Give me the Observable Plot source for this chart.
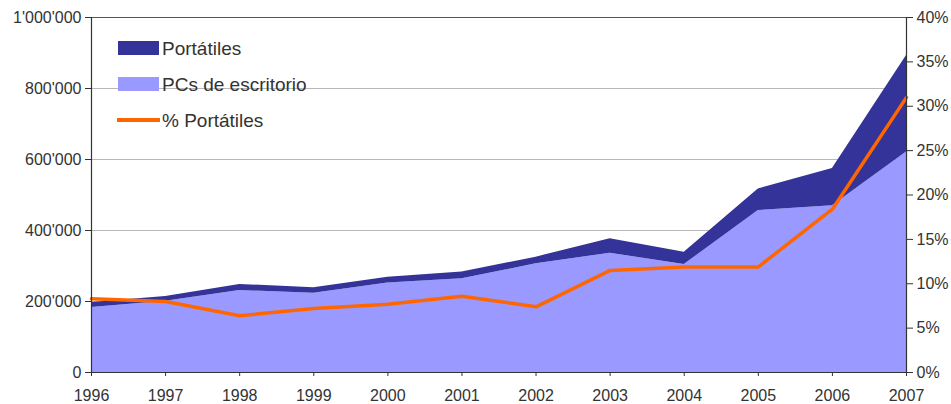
<!DOCTYPE html>
<html>
<head>
<meta charset="utf-8">
<script src="https://cdn.jsdelivr.net/npm/d3@7"></script>
<script src="https://cdn.jsdelivr.net/npm/@observablehq/plot@0.6"></script>
<style>
  html, body { margin: 0; padding: 0; background: #fff; }
  #chart { width: 951px; height: 404px; }
</style>
</head>
<body>
<div id="chart"></div>
<script>
// Data (values in units; percentages in %)
const years = [1996, 1997, 1998, 1999, 2000, 2001, 2002, 2003, 2004, 2005, 2006, 2007];
const desktop = [183000, 201000, 231000, 223000, 252000, 264000, 306000, 336000, 304000, 456000, 470000, 621000];
const portable = [14000, 13000, 17000, 16000, 16000, 19000, 19000, 41000, 35000, 61000, 105000, 272000];
const pctPortable = [8.3, 8.0, 6.4, 7.2, 7.7, 8.6, 7.4, 11.5, 11.9, 11.9, 18.4, 31.0];
const leftTicks = [0, 200000, 400000, 600000, 800000, 1000000];
const rightTicks = [0, 5, 10, 15, 20, 25, 30, 35, 40];
const legendLabels = ["Portátiles", "PCs de escritorio", "% Portátiles"];

const Y_MAX = 1000000, P_MAX = 40;
const rows = years.map((year, i) => ({
  year, desktop: desktop[i], total: desktop[i] + portable[i], pct: pctPortable[i]
}));

const fmt = d3.formatLocale({decimal: ".", thousands: "'", grouping: [3], currency: ["", ""]}).format(",d");

const plot = Plot.plot({
  width: 951,
  height: 404,
  marginLeft: 91,
  marginRight: 45,
  marginTop: 17,
  marginBottom: 32,
  x: {type: "linear", domain: [years[0], years[years.length - 1]]},
  y: {domain: [0, Y_MAX]},
  style: {fontFamily: "'Liberation Sans', Arial, sans-serif", fontSize: "16px", color: "#333", background: "#fff", overflow: "visible"},
  marks: [
    Plot.ruleY(leftTicks.slice(1, -1), {stroke: "#b8b8b8", strokeWidth: 1}),
    Plot.areaY(rows, {x: "year", y: "desktop", fill: "#9999ff"}),
    Plot.areaY(rows, {x: "year", y1: "desktop", y2: "total", fill: "#333399"}),
    Plot.lineY(rows, {x: "year", y: d => d.pct / P_MAX * Y_MAX, stroke: "#ff6600", strokeWidth: 3.5}),
    Plot.ruleY([Y_MAX], {stroke: "#555", strokeWidth: 1}),
    Plot.ruleY([0], {stroke: "#333", strokeWidth: 1.2}),
    Plot.ruleX([years[0], years[years.length - 1]], {stroke: "#333", strokeWidth: 1.2}),
    Plot.axisY({ticks: leftTicks, tickFormat: fmt, tickSize: 6, tickPadding: 4, label: null}),
    Plot.axisY({anchor: "right", ticks: rightTicks.map(p => p / P_MAX * Y_MAX),
      tickFormat: v => `${Math.round(v / Y_MAX * P_MAX)}%`, tickSize: 6, tickPadding: 4, label: null}),
    Plot.axisX({ticks: years, tickFormat: d => String(d), tickSize: 4, tickPadding: 13, label: null})
  ]
});

document.getElementById("chart").appendChild(plot);

// Legend inside the plot area
const svg = d3.select(plot);
const lg = svg.append("g")
  .attr("font-family", "'Liberation Sans', Arial, sans-serif")
  .attr("font-size", 19)
  .attr("text-anchor", "start")
  .attr("fill", "#333");
const swatches = [
  {type: "rect", color: "#333399"},
  {type: "rect", color: "#9999ff"},
  {type: "line", color: "#ff6600"}
];
legendLabels.forEach((label, i) => {
  const cy = 48 + i * 36;
  const s = swatches[i];
  if (s.type === "rect") {
    lg.append("rect").attr("x", 118).attr("y", cy - 7).attr("width", 41).attr("height", 14).attr("fill", s.color);
  } else {
    lg.append("line").attr("x1", 117).attr("x2", 160).attr("y1", cy).attr("y2", cy)
      .attr("stroke", s.color).attr("stroke-width", 4);
  }
  lg.append("text").attr("x", 162).attr("y", cy + 7).attr("text-anchor", "start").text(label);
});
</script>
</body>
</html>
